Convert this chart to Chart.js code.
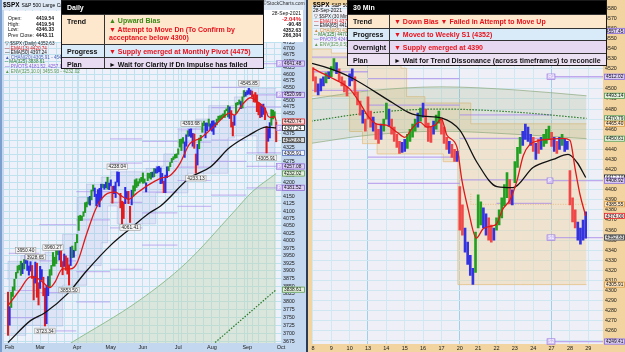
<!DOCTYPE html>
<html>
<head>
<meta charset="utf-8">
<script src="https://cdn.jsdelivr.net/npm/chart.js@4.4.1/dist/chart.umd.min.js"></script>
<style>
  body { margin: 0; width: 625px; height: 352px; overflow: hidden; position: relative; background: #2c3b55; font-family: "Liberation Sans", Arial, sans-serif; }
  .abs { position: absolute; white-space: nowrap; }
  #lp { position: absolute; left: 0; top: 0; width: 306px; height: 352px; background: #c3d7ee; }
  #rp { position: absolute; left: 308px; top: 0; width: 317px; height: 352px; background: #f1d49f; }
  canvas { position: absolute; left: 0; top: 0; }
  .tiny { font-size: 5px; line-height: 5.6px; color: #111; }
  .leg { font-size: 4.6px; line-height: 4.6px; }
  .tb { position: absolute; background: #000; border: 1px solid #1a1a1a; box-sizing: border-box; font-size: 7px; font-weight: bold; overflow: hidden; }
  .tb .hd { color: #fff; padding-left: 5px; box-sizing: border-box; display: flex; align-items: center; }
  .tb .rw { display: flex; border-top: 1px solid #333; box-sizing: border-box; }
  .tb .k { flex: none; border-right: 1px solid #333; padding-left: 5px; box-sizing: border-box; display: flex; align-items: center; color: #111; }
  .tb .v { padding-left: 4px; display: flex; align-items: center; white-space: nowrap; color: #111; }
  .tb .top { align-items: flex-start; padding-top: 3px; }
  .r { color: #e8121c; }
  .g { color: #3f8a16; }
</style>
</head>
<body>
<div id="lp"><canvas id="lc" width="306" height="352"></canvas></div>
<div id="rp"><canvas id="rc" width="317" height="352"></canvas></div>

<!-- left panel header and info -->
<div class="abs" style="left:0;top:0;width:2px;height:352px;background:#7d9fcf"></div>
<div class="abs" style="left:2px;top:0;width:302px;height:10px;background:#dfe9f6"></div>
<div class="abs" style="left:3px;top:1px;font-size:6.5px;font-weight:bold">$SPX <span style="font-weight:normal;font-size:5px">S&amp;P 500 Large Cap Index INDX</span></div>
<div class="abs tiny" style="left:263px;top:1px;color:#333">&copy;StockCharts.com</div>
<div class="abs" style="left:4px;top:11px;width:57px;height:31px;background:#fff"></div>
<div class="abs tiny" style="left:8px;top:16px">Open:<br>High:<br>Low:<br>Prev Close:</div>
<div class="abs tiny" style="left:36px;top:16px;font-weight:bold">4419.54<br>4419.54<br>4346.33<br>4443.11</div>
<div class="abs" style="left:261px;top:10px;width:42px;height:32px;background:#fff"></div>
<div class="abs tiny" style="left:261px;top:11px;width:40px;text-align:right">28-Sep-2021<br><b class="r" style="font-size:6px">-2.04%</b><br><b>-90.48</b><br><b>4352.63</b><br><b>266,304</b></div>
<div class="abs leg" style="left:5px;top:42px">
  <span style="color:#222">&#9661; $SPX (Daily) 4352.63</span><br>
  <span style="color:#e01818">&mdash; EMA(13) 4420.74</span><br>
  <span style="color:#111">&mdash; EMA(50) 4397.24</span><br>
  <span style="color:#4a62b8">&#9650; CHAN(20) 4305.91 - 4545.85</span><br>
  <span style="color:#2a7a2a">-- MA(325) 3838.61</span><br>
  <span style="color:#8a5ad8">&mdash; PIVOTS 4181.52, 4257.08, 4397.24, 4520.99, 4641.48</span><br>
  <span style="color:#5a9a50">&#9650; ENV(325,10.0) 3455.93 - 4232.02</span>
</div>

<!-- right panel header -->
<div class="abs" style="left:313px;top:1px;font-size:6.5px;font-weight:bold">$SPX <span style="font-weight:normal;font-size:5px">S&amp;P 500 Large Cap Index INDX</span></div>
<div class="abs tiny" style="left:313px;top:8px">28-Sep-2021</div>
<div class="abs leg" style="left:314px;top:15px">
  <span style="color:#222">&#9661; $SPX (30 Min) 4352.63</span><br>
  <span style="color:#e01818">&mdash; EMA(13) 4374.00</span><br>
  <span style="color:#111">&mdash; EMA(65) 4412.10</span><br>
  <span style="color:#d08a30">&#9650; CHAN(65) 4305.91 - 4465.40</span><br>
  <span style="color:#2a7a2a">-- MA(325) 4470.79</span><br>
  <span style="color:#8a5ad8">&mdash; PIVOTS 4249.41, 4352.50</span><br>
  <span style="color:#5a9a50">&#9650; ENV(325,0.5) 4450.61 - 4493.14</span>
</div>

<!-- plan tables -->
<div class="tb" style="left:61px;top:0;width:203px;height:69px">
  <div class="hd" style="height:13px">Daily</div>
  <div class="rw" style="height:30px;background:#fde8ce">
    <div class="k top" style="width:43px">Trend</div>
    <div class="v top" style="flex-direction:column;align-items:flex-start;line-height:8.6px;padding-top:2px"><span class="g">&#9650; Upward Bias</span><span class="r">&#9660; Attempt to Move Dn (To Confirm by</span><span class="r">acceptance below 4300)</span></div>
  </div>
  <div class="rw" style="height:13px;background:#d9eaf8">
    <div class="k" style="width:43px">Progress</div>
    <div class="v"><span class="r">&#9660; Supply emerged at Monthly Pivot (4475)</span></div>
  </div>
  <div class="rw" style="height:13px;background:#e8dcf2">
    <div class="k" style="width:43px">Plan</div>
    <div class="v">&#9658; Wait for Clarity if Dn Impulse has failed</div>
  </div>
</div>
<div class="tb" style="left:347px;top:0;width:260px;height:66px">
  <div class="hd" style="height:13px">30 Min</div>
  <div class="rw" style="height:14px;background:#fde8ce">
    <div class="k" style="width:42px">Trend</div>
    <div class="v"><span class="r">&#9660; Down Bias &#9660; Failed in Attempt to Move Up</span></div>
  </div>
  <div class="rw" style="height:12px;background:#d9eaf8">
    <div class="k" style="width:42px">Progress</div>
    <div class="v"><span class="r">&#9660; Moved to Weekly S1 (4352)</span></div>
  </div>
  <div class="rw" style="height:13px;background:#e6d8f0">
    <div class="k" style="width:42px">Overnight</div>
    <div class="v"><span class="r">&#9660; Supply emerged at 4390</span></div>
  </div>
  <div class="rw" style="height:13px;background:#ece0f3">
    <div class="k" style="width:42px">Plan</div>
    <div class="v">&#9658; Wait for Trend Dissonance (across timeframes) to reconcile</div>
  </div>
</div>

<script>
Chart.defaults.font.family = '"Liberation Sans", Arial, sans-serif';
Chart.defaults.color = '#1a1a1a';
Chart.defaults.animation = false;

// ---------- daily chart (left), index 0 = 29 Jan 2021 ----------
const lMonths = ['Feb', 'Mar', 'Apr', 'May', 'Jun', 'Jul', 'Aug', 'Sep', 'Oct'];
const lMonthAt = [1, 20, 43, 64, 84, 106, 127, 149, 170];
const lWeekAt = [6, 11, 15, 25, 30, 35, 40, 44, 49, 54, 59, 69, 74, 79, 88, 93, 98, 103, 108, 112, 117, 122, 132, 137, 142, 147, 152, 156, 161, 166];

const lHigh = [3830.5,3784.3,3830.4,3847.5,3872.4,3894.6,3915.8,3918.4,3931.5,3925.0,
 3937.0,3950.4,3933.0,3915.8,3930.0,3917.4,3882.4,3928.7,3925.0,3861.1,
 3914.5,3903.8,3879.0,3843.7,3851.7,3881.1,3903.8,3917.4,3960.3,3945.0,
 3970.1,3981.0,3983.9,3970.1,3930.1,3955.3,3949.1,3942.1,3919.5,3978.2,
 3981.8,3968.0,3994.4,4020.6,4083.4,4086.2,4083.1,4098.2,4129.5,4131.8,
 4148.0,4151.7,4173.5,4191.3,4180.8,4159.2,4175.0,4179.6,4194.2,4194.2,
 4193.4,4201.5,4218.8,4198.1,4209.4,4186.7,4187.7,4202.0,4238.0,4236.4,
 4162.0,4134.7,4131.6,4183.1,4168.6,4169.1,4116.9,4172.8,4188.7,4209.5,
 4213.4,4202.9,4213.4,4218.4,4234.1,4212.8,4198.8,4233.5,4232.3,4236.1,
 4237.1,4249.7,4248.9,4255.8,4257.2,4251.9,4232.3,4204.8,4226.2,4255.8,
 4256.6,4271.3,4286.1,4292.1,4300.5,4302.4,4320.7,4355.0,4356.5,4361.9,
 4345.6,4372.0,4386.7,4392.4,4393.7,4377.1,4375.1,4301.8,4336.8,4359.7,
 4369.9,4415.2,4422.3,4415.5,4415.5,4430.0,4412.6,4422.6,4423.8,4416.3,
 4429.8,4440.8,4442.2,4445.2,4449.4,4461.8,4468.0,4480.3,4475.8,4461.7,
 4418.6,4444.4,4489.9,4492.8,4501.7,4495.9,4513.3,4537.4,4531.4,4537.1,
 4545.9,4539.5,4535.4,4521.8,4529.9,4520.5,4492.3,4485.9,4480.3,4486.0,
 4471.5,4402.9,4394.9,4416.8,4465.4,4463.1,4457.3,4419.5];
const lLow = [3694.1,3725.6,3781.5,3816.7,3836.9,3874.9,3892.9,3902.6,3884.9,3890.4,
 3905.8,3923.9,3901.0,3885.7,3898.8,3874.9,3805.6,3859.6,3814.0,3789.5,
 3842.5,3869.1,3818.9,3723.3,3730.2,3819.3,3848.0,3885.7,3915.5,3915.2,
 3923.5,3953.4,3935.7,3913.1,3886.8,3914.2,3901.6,3889.1,3853.5,3917.1,
 3943.3,3944.4,3966.0,3992.8,4034.4,4068.1,4068.3,4082.5,4095.5,4114.8,
 4124.4,4120.9,4139.1,4170.8,4150.5,4118.4,4126.4,4115.2,4138.8,4182.4,
 4176.2,4181.8,4176.8,4174.9,4188.0,4128.0,4160.9,4147.3,4201.6,4188.1,
 4111.5,4056.9,4075.0,4126.0,4143.5,4126.0,4061.4,4122.0,4151.7,4170.2,
 4182.5,4188.1,4197.8,4203.6,4197.6,4198.0,4167.2,4206.6,4215.7,4211.9,
 4218.7,4220.3,4233.0,4234.1,4238.4,4196.0,4197.0,4164.4,4164.4,4217.3,
 4241.4,4256.1,4271.2,4281.5,4286.7,4288.0,4300.7,4327.0,4314.4,4340.7,
 4289.5,4329.9,4366.0,4366.9,4362.4,4329.8,4322.5,4233.1,4262.0,4320.8,
 4350.1,4381.0,4405.6,4360.6,4387.0,4403.2,4389.9,4385.0,4373.0,4400.2,
 4408.4,4424.2,4427.4,4430.0,4436.4,4436.0,4460.8,4437.7,4432.0,4400.3,
 4367.7,4406.8,4450.7,4482.7,4485.7,4469.0,4471.1,4513.0,4515.8,4522.0,
 4524.7,4522.0,4513.0,4494.0,4492.8,4457.7,4445.7,4435.5,4438.4,4447.3,
 4427.8,4305.9,4348.0,4360.2,4406.8,4430.3,4436.2,4346.3];
const lClr = 'rbgggggggb' + 'gbbbbrrbrr' + 'bbrrbbgggg' + 'ggbrrbrrrb' + 'gbgggggggg' +
             'gbggbbbbbg' + 'bbgbbrbbbb' + 'rrrbbrrbgg' + 'ggggggbggg' + 'bgbbbbbrbb' +
             'gggggggggg' + 'bbgbbbrrbg' + 'gggbbgbbbb' + 'ggggggggbr' + 'rbgggbggbb' +
             'bbrrrrrrbb' + 'rrbbgggr';

const lEma13X = [0, 7, 14, 18, 22, 26, 29, 34, 39, 43, 49, 55, 62, 67, 70, 75, 80, 87, 95, 101, 107, 113, 120, 126, 132, 138, 141, 146, 151, 156, 160, 161, 162, 164, 166, 167];
const lEma13 = [3787, 3835, 3880, 3877, 3861, 3845, 3861, 3906, 3906, 3926, 4023, 4112, 4162, 4166, 4155, 4141, 4162, 4190, 4215, 4225, 4267, 4338, 4360, 4390, 4425, 4452, 4445, 4485, 4510, 4492, 4470, 4455, 4440, 4436, 4440, 4420.74];
const lEma50X = [0, 14, 23, 37, 49, 64, 76, 88, 95, 113, 126, 138, 150, 161, 167];
const lEma50 = [3672, 3740, 3765, 3825, 3900, 3985, 4040, 4094, 4118, 4216, 4255, 4325, 4370, 4400, 4397.24];
const lChanX = [0, 8, 11, 20, 23, 30, 34, 43, 49, 58, 62, 64, 68, 72, 86, 92, 97, 106, 112, 117, 125, 137, 141, 146, 149, 155, 161, 167];
const lChanHi = [3870, 3931, 3950, 3950, 3950, 3960, 3984, 4021, 4148, 4194, 4219, 4219, 4238, 4238, 4238, 4250, 4258, 4302, 4387, 4394, 4430, 4480, 4480, 4513, 4537, 4546, 4546, 4546];
const lChanLo = [3694, 3694, 3694, 3725, 3723, 3723, 3723, 3853, 3853, 3917, 3993, 4118, 4118, 4057, 4057, 4057, 4164, 4164, 4164, 4233, 4233, 4233, 4360, 4368, 4368, 4368, 4306, 4306];
const lEnvX = [39, 82, 111, 140, 152, 167];
const lEnv = [3670, 3805, 3926, 4094, 4167, 4232.02];
const lMaX = [129, 167];
const lMa = [3672, 3838.61];
// monthly pivot segments: [from, to, level]
const lPivots = [
  [0.5, 19.5, 3749.3], [0.5, 19.5, 3835.9], [0.5, 19.5, 3957.5],
  [19.5, 42.5, 3829.1], [19.5, 42.5, 3932.5], [19.5, 42.5, 3707.7], [19.5, 42.5, 4053.9],
  [42.5, 63.5, 3896.9], [42.5, 63.5, 4070.5], [42.5, 63.5, 3799.4], [42.5, 63.5, 4168.0],
  [63.5, 83.5, 4130.9], [63.5, 83.5, 4269.1], [63.5, 83.5, 4043.0], [63.5, 83.5, 4357.0], [63.5, 83.5, 3904.9],
  [83.5, 105.5, 4166.3], [83.5, 105.5, 4275.8], [83.5, 105.5, 4094.6], [83.5, 105.5, 4347.5], [83.5, 105.5, 3985.2],
  [105.5, 126.5, 4254.8], [105.5, 126.5, 4345.2], [105.5, 126.5, 4207.2], [105.5, 126.5, 4392.8], [105.5, 126.5, 4116.8],
  [126.5, 148.5, 4352.8], [126.5, 148.5, 4472.5], [126.5, 148.5, 4275.6], [126.5, 148.5, 4549.7], [126.5, 148.5, 4155.9],
  [148.5, 170, 4475.9], [148.5, 170, 4641.48], [148.5, 170, 4520.99], [148.5, 170, 4306.2], [148.5, 170, 4257.08], [148.5, 170, 4181.52]
];
// high / low call-outs: index, value, 1 = above bar
const lMarkX = [11, 17, 28, 23, 38, 68, 76, 114, 117, 150, 161];
const lMarkV = [3950.40, 3928.65, 3960.27, 3723.34, 3853.50, 4238.04, 4061.41, 4393.68, 4233.13, 4545.85, 4305.91];
const lMarkUp = [1, 1, 1, 0, 0, 1, 0, 1, 0, 1, 0];
const lTags = [[4641.48, 'p'], [4520.99, 'p'], [4420.74, 'r'], [4397.24, 'k'], [4352.63, 'd'], [4305.91, 'b'], [4257.08, 'p'], [4232.02, 'g'], [4181.52, 'p'], [3838.61, 'g']];
const lBoxes = [[4641.48, 'P'], [4520.99, 'P'], [4397.24, 'P'], [4257.08, 'P'], [4181.52, 'P']];

// ---------- 30 min chart (right), 7 bars per session ----------
const rDays = ['8', '9', '10', '13', '14', '15', '16', '17', '20', '21', '22', '23', '24', '27', '28', '29'];
const rWeekStart = [3, 8, 13];
const rHigh = [
 4521,4512,4505,4510,4512,4516,4517,
 4522,4530,4526,4520,4512,4508,4502,
 4515,4520,4512,4497,4488,4479,4470,
 4492,4478,4472,4465,4460,4465,4470,
 4486,4480,4470,4462,4455,4448,4447,
 4450,4455,4460,4465,4470,4476,4481,
 4486,4480,4466,4462,4468,4474,4478,
 4471,4462,4452,4448,4445,4440,4438,
 4403,4385,4362,4348,4335,4322,4358,
 4395,4388,4382,4376,4372,4365,4362,
 4372,4380,4392,4405,4417,4410,4400,
 4428,4442,4452,4458,4465,4462,4455,
 4452,4446,4450,4452,4455,4460,4463,
 4457,4452,4448,4452,4455,4450,4448,
 4419,4392,4380,4368,4362,4370,4378];
const rLow = [
 4508,4497,4494,4498,4503,4506,4510,
 4512,4518,4515,4508,4503,4497,4493,
 4503,4508,4494,4484,4474,4466,4458,
 4470,4462,4458,4450,4446,4450,4458,
 4470,4463,4455,4448,4442,4436,4437,
 4438,4441,4448,4452,4458,4462,4468,
 4472,4462,4448,4447,4455,4460,4466,
 4455,4446,4440,4436,4432,4428,4428,
 4360,4355,4338,4326,4315,4306,4318,
 4362,4365,4362,4355,4350,4348,4350,
 4360,4365,4372,4384,4392,4386,4385,
 4407,4422,4436,4444,4450,4448,4444,
 4438,4430,4436,4440,4443,4446,4450,
 4443,4438,4436,4440,4444,4438,4440,
 4385,4368,4362,4350,4346,4350,4352];
const rClr = 'rrbbbgb' + 'ggbrrrr' + 'bbrrrbr' + 'rrbrrbg' + 'gbrrrrb' + 'bggggbg' + 'brrrbgg' + 'rrrbrrb' +
             'rrbbbbg' + 'ggbbrrb' + 'gggggrb' + 'gggbbbb' + 'rbrbggg' + 'rbrbgbb' + 'rrrbbbb';
const rEma13X = [0, 0.9, 2.0, 2.56, 3.0, 3.49, 4.0, 4.58, 5.0, 5.45, 5.83, 6.21, 6.65, 7.0, 7.3, 7.85, 8.1, 8.45, 8.9, 9.26, 9.75, 10.0, 10.35, 10.74, 11.1, 11.46, 11.82, 12.37, 12.9, 13.62, 14.0, 14.28, 14.55, 14.86];
const rEma13 = [4520, 4512, 4500, 4486, 4473, 4465, 4464, 4457, 4452, 4462, 4467, 4462, 4464, 4470, 4454, 4442, 4411, 4381, 4352, 4361, 4364, 4366, 4381, 4390, 4408, 4434, 4445, 4449, 4450, 4451, 4449, 4421, 4395, 4374];
const rEma65X = [-0.5, 0, 0.93, 2.0, 4.36, 5.29, 6.0, 7.03, 8.0, 8.94, 10.03, 10.9, 11.99, 13.08, 13.9, 14.39, 14.86];
const rEma65 = [4527, 4525, 4520, 4512, 4486, 4476, 4473, 4471, 4459, 4427, 4403, 4402, 4422, 4430, 4435, 4427, 4412.1];
const rEnvX = [-0.1, 3, 7, 11, 14.9];
const rEnvHi = [4490, 4498, 4502, 4499, 4493.14];
const rEnvLo = [4446, 4454, 4458, 4455, 4450.61];
const rMa = [4468, 4476, 4480, 4477, 4470.79];
const rChanX = [-0.1, 1, 2, 2.7, 3.5, 4.8, 5.1, 6.1, 7.1, 7.9, 8.6, 11.3, 14.9];
const rChanHi = [4545.9, 4539.5, 4535.4, 4530, 4530, 4530, 4520.5, 4492.3, 4486, 4486, 4486, 4465.4, 4465.4];
const rChanLo = [4493, 4493, 4492.8, 4457.7, 4445.7, 4435.5, 4435.5, 4435.5, 4435.5, 4427.8, 4305.9, 4305.9, 4305.9];
const rMidX = [8.6, 11.3, 14.9];
const rMid = [4396, 4385.55, 4385.55];
// weekly pivot segments: [from, to, level]
const rPivots = [
  [-0.1, 3, 4531.4], [-0.1, 3, 4517.0], [-0.1, 3, 4498.6],
  [3, 8, 4510.1], [3, 8, 4483.9], [3, 8, 4432.4], [3, 8, 4406.2],
  [8, 13, 4474.2], [8, 13, 4451.0], [8, 13, 4409.7], [10, 13, 4386.5],
  [12.75, 15.9, 4557.45], [12.75, 15.9, 4512.02], [12.75, 15.9, 4408.92], [12.75, 15.9, 4352.5], [12.75, 15.9, 4249.41]
];
const rTags = [[4557.45, 'p'], [4512.02, 'p'], [4493.14, 'g'], [4470.79, 'g'], [4465.40, 'o'], [4450.61, 'g'], [4412.10, 'k'], [4408.92, 'p'],
               [4385.55, 'o'], [4374.00, 'r'], [4352.63, 'd'], [4305.91, 'o'], [4249.41, 'p']];
const rBoxes = [[4557.45, 'R2'], [4512.02, 'R1'], [4408.92, 'P'], [4352.5, 'S1'], [4249.41, 'S2']];

// ---------- helpers ----------
const barClr = { g: '#1f9a1f', b: '#2b2be6', r: '#e21d1d' };
const rBarClr = { g: '#22a022', b: '#3333e0', r: '#f04848' };
const tagStyle = {
  p: ['#dccff6', '#8a6ad0'], r: ['#fbdada', '#e02020'], k: ['#ffffff', '#111111'], d: ['#d6d6d6', '#333333'],
  b: ['#eef2ff', '#5570c0'], g: ['#e2f0dc', '#5a9a50'], o: ['#fde6c4', '#d99a40']
};
const xy = (xs, ys) => xs.map((x, i) => ({ x: x, y: ys[i] }));
const segs = list => list.flatMap(s => [{ x: s[0], y: s[2] }, { x: s[1], y: s[2] }, { x: s[1], y: null }]);
const line = (data, color, extra) => Object.assign({
  type: 'line', data: data, borderColor: color, borderWidth: 1.2, pointRadius: 0,
  fill: false, tension: 0.35, cubicInterpolationMode: 'monotone', order: 0
}, extra || {});

function overlay(bg, marks, tags, boxes, boxX, tagW) {
  return {
    id: 'ovl',
    beforeDraw(c) {
      const a = c.chartArea, ctx = c.ctx;
      ctx.save();
      ctx.fillStyle = bg;
      ctx.fillRect(a.left, a.top, a.right - a.left, a.bottom - a.top);
      ctx.restore();
    },
    afterDraw(c) {
      const ctx = c.ctx, a = c.chartArea, xs = c.scales.x, ys = c.scales.y;
      ctx.save();
      ctx.textBaseline = 'middle';
      ctx.font = '4.8px "Liberation Sans"';
      if (marks) {
        marks.x.forEach((ix, i) => {
          const v = marks.v[i], t = v.toFixed(2);
          const px = xs.getPixelForValue(ix);
          const py = ys.getPixelForValue(v) + (marks.up[i] ? -5 : 5);
          const w = ctx.measureText(t).width + 3;
          ctx.fillStyle = '#f3f3f3';
          ctx.fillRect(px - w / 2, py - 2.8, w, 5.6);
          ctx.strokeStyle = '#9a9a9a';
          ctx.lineWidth = 0.6;
          ctx.strokeRect(px - w / 2, py - 2.8, w, 5.6);
          ctx.fillStyle = '#222';
          ctx.textAlign = 'center';
          ctx.fillText(t, px, py + 0.3);
        });
      }
      ctx.textAlign = 'left';
      boxes.forEach(b => {
        const py = ys.getPixelForValue(b[0]);
        const px = xs.getPixelForValue(boxX);
        const w = b[1].length > 1 ? 8 : 6;
        ctx.fillStyle = '#d2c2f4';
        ctx.fillRect(px, py - 2.8, w, 5.6);
        ctx.strokeStyle = '#9a7ae0';
        ctx.lineWidth = 0.6;
        ctx.strokeRect(px, py - 2.8, w, 5.6);
        ctx.fillStyle = '#fff';
        ctx.fillText(b[1], px + 1.2, py + 0.3);
      });
      tags.forEach(t => {
        const py = ys.getPixelForValue(t[0]);
        const st = tagStyle[t[1]];
        ctx.fillStyle = st[0];
        ctx.fillRect(a.right + 1, py - 3, tagW, 6);
        ctx.strokeStyle = st[1];
        ctx.lineWidth = 0.8;
        ctx.strokeRect(a.right + 1.5, py - 2.6, tagW - 1, 5.2);
        ctx.fillStyle = '#111';
        ctx.fillText(t[0].toFixed(2), a.right + 3, py + 0.3);
      });
      ctx.restore();
    }
  };
}

// ---------- left chart ----------
const lTicksX = lMonthAt.concat(lWeekAt).sort((a, b) => a - b);
const lTickMin = 3675, lTickMax = 4825, lTickStep = 25;

new Chart(document.getElementById('lc'), {
  type: 'bar',
  data: {
    datasets: [
      { type: 'bar', data: lHigh.map((h, i) => ({ x: i, y: [lLow[i], h] })),
        backgroundColor: lClr.split('').map(c => barClr[c]), barThickness: 1.4, order: 1 },
      line(xy(lEma13X, lEma13), '#e01818', { borderWidth: 1.3 }),
      line(xy(lEma50X, lEma50), '#111111', { borderWidth: 1.3 }),
      line(xy(lChanX, lChanHi), 'rgba(160,170,220,0.55)', { stepped: 'after', borderWidth: 0.7, fill: '+1', backgroundColor: 'rgba(170,176,230,0.22)', order: 4 }),
      line(xy(lChanX, lChanLo), 'rgba(160,170,220,0.55)', { stepped: 'after', borderWidth: 0.7, order: 4 }),
      line(xy(lEnvX, lEnv), '#93c093', { borderWidth: 1, fill: 'start', backgroundColor: 'rgba(190,212,178,0.42)', order: 5 }),
      line(xy(lMaX, lMa), '#2a7a2a', { borderWidth: 1.2, borderDash: [1.5, 1.5], order: 2 }),
      line(segs(lPivots), 'rgba(170,140,235,0.55)', { borderWidth: 1.2, tension: 0, order: 3 })
    ]
  },
  options: {
    responsive: false,
    devicePixelRatio: 1,
    layout: { autoPadding: false, padding: { left: 4, top: 10, right: 0, bottom: 0 } },
    plugins: { legend: { display: false }, tooltip: { enabled: false } },
    scales: {
      x: {
        type: 'linear', min: -2.5, max: 170, offset: false,
        afterBuildTicks: s => { s.ticks = lTicksX.map(v => ({ value: v })); },
        afterFit: s => { s.height = 9; },
        ticks: { autoSkip: false, maxRotation: 0, padding: 1, font: { size: 5.5 },
          callback: v => { const k = lMonthAt.indexOf(v); return k >= 0 ? lMonths[k] : ''; } },
        grid: { color: '#bfe2ee', drawTicks: false, offset: false },
        border: { display: false }
      },
      y: {
        type: 'logarithmic', position: 'right', min: 3670.4, max: 4855,
        afterBuildTicks: s => { const t = []; for (let v = lTickMin; v <= lTickMax; v += lTickStep) t.push({ value: v }); s.ticks = t; },
        afterFit: s => { s.width = 25; },
        ticks: { autoSkip: false, padding: 2, font: { size: 5.3 }, callback: v => String(v) },
        grid: { color: '#bfe2ee', drawTicks: false },
        border: { display: false }
      }
    }
  },
  plugins: [overlay('#eef1fa', { x: lMarkX, v: lMarkV, up: lMarkUp }, lTags, lBoxes, 167.3, 23)]
});

// ---------- right chart ----------
const rTickMin = 4250, rTickMax = 4580, rTickStep = 10;

new Chart(document.getElementById('rc'), {
  type: 'bar',
  data: {
    datasets: [
      { type: 'bar', data: rHigh.map((h, i) => ({ x: Math.floor(i / 7) + (i % 7) / 7, y: [rLow[i], h] })),
        backgroundColor: rClr.split('').map(c => rBarClr[c]), barThickness: 2, order: 1 },
      line(xy(rEma13X, rEma13), '#e01818', { borderWidth: 1.3 }),
      line(xy(rEma65X, rEma65), '#111111', { borderWidth: 1.3 }),
      line(xy(rEnvX, rEnvHi), 'rgba(140,170,125,0.7)', { borderWidth: 1, fill: '+1', backgroundColor: 'rgba(150,170,115,0.2)', order: 5 }),
      line(xy(rEnvX, rEnvLo), 'rgba(140,170,125,0.7)', { borderWidth: 1, order: 5 }),
      line(xy(rEnvX, rMa), '#2a7a2a', { borderWidth: 1.2, borderDash: [1.5, 1.5], order: 2 }),
      line(xy(rChanX, rChanHi), 'rgba(225,185,120,0.8)', { stepped: 'after', borderWidth: 0.8, fill: '+1', backgroundColor: 'rgba(240,208,145,0.38)', order: 6 }),
      line(xy(rChanX, rChanLo), 'rgba(225,185,120,0.9)', { stepped: 'after', borderWidth: 0.8, order: 6 }),
      line(xy(rMidX, rMid), 'rgba(230,160,80,0.8)', { stepped: 'after', borderWidth: 0.8, borderDash: [1, 1.5], order: 3 }),
      line(segs(rPivots), 'rgba(170,140,235,0.7)', { borderWidth: 1.3, tension: 0, order: 3 })
    ]
  },
  options: {
    responsive: false,
    devicePixelRatio: 1,
    layout: { autoPadding: false, padding: { left: 4, top: 1, right: 0, bottom: 0 } },
    plugins: { legend: { display: false }, tooltip: { enabled: false } },
    scales: {
      x: {
        type: 'linear', min: -0.05, max: 15.8, offset: false,
        afterBuildTicks: s => { s.ticks = rDays.map((d, i) => ({ value: i })); },
        afterFit: s => { s.height = 8; },
        ticks: { autoSkip: false, maxRotation: 0, padding: 1, font: { size: 5.5 }, callback: (v, i) => rDays[i] },
        grid: { color: c => rWeekStart.includes(c.tick && c.tick.value) ? '#9fd0ea' : '#d0e8f2', drawTicks: false, offset: false },
        border: { display: false }
      },
      y: {
        type: 'linear', position: 'right', min: 4247, max: 4583,
        afterBuildTicks: s => { const t = []; for (let v = rTickMin; v <= rTickMax; v += rTickStep) t.push({ value: v }); s.ticks = t; },
        afterFit: s => { s.width = 22; },
        ticks: { autoSkip: false, padding: 2, font: { size: 5.3 }, callback: v => String(v) },
        grid: { color: '#cfe7f1', drawTicks: false },
        border: { display: false }
      }
    }
  },
  plugins: [overlay('#efeff7', null, rTags, rBoxes, 12.75, 21)]
});
</script>
</body>
</html>
